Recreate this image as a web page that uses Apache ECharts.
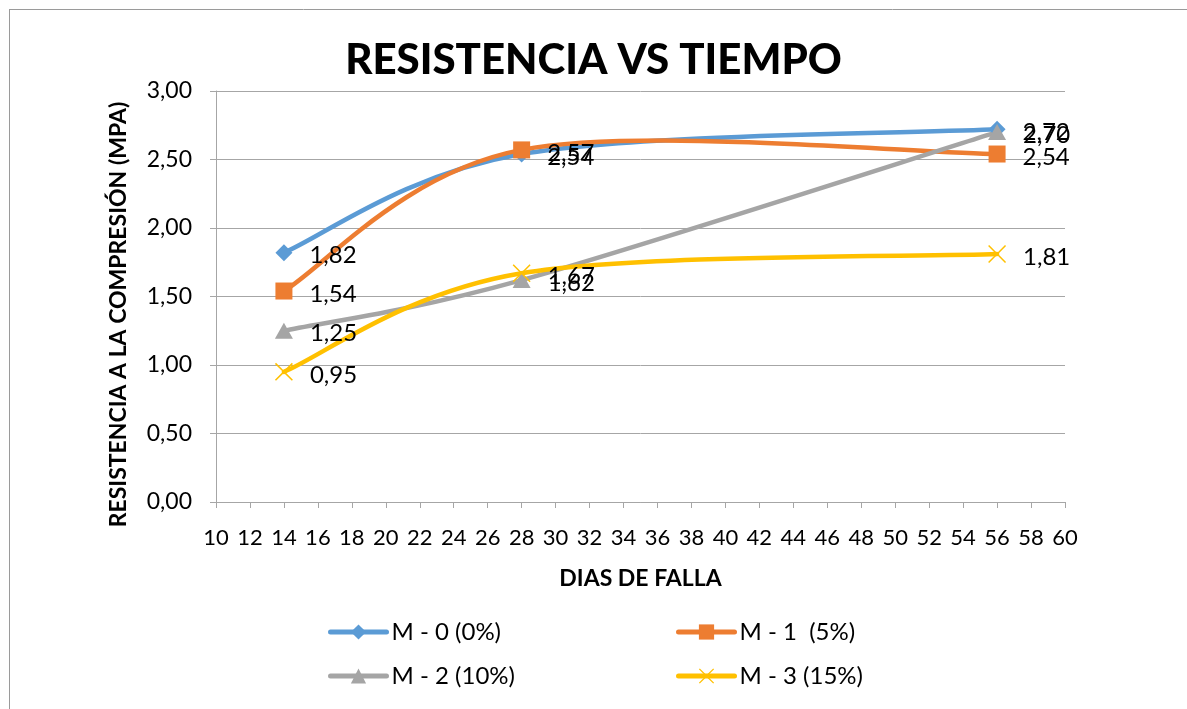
<!DOCTYPE html>
<html>
<head>
<meta charset="utf-8">
<script src="https://cdn.jsdelivr.net/npm/echarts@6/dist/echarts.min.js"></script>
<style>
  html, body { margin: 0; padding: 0; background: #fff; }
  #chart { width: 1187px; height: 709px; }
</style>
</head>
<body>
<div id="chart"></div>
<script>
// Test ages (days) and compressive strength (MPa) for each mix
const dias = [14, 28, 56];
const m0 = [1.82, 2.54, 2.72];
const m1 = [1.54, 2.57, 2.54];
const m2 = [1.25, 1.62, 2.70];
const m3 = [0.95, 1.67, 1.81];

const seriesNames = ['M - 0 (0%)', 'M - 1  (5%)', 'M - 2 (10%)', 'M - 3 (15%)'];
const seriesValues = [m0, m1, m2, m3];
const colors = ['#5B9BD5', '#ED7D31', '#A5A5A5', '#FFC000'];

const FONT = 'Lato, "Open Sans", sans-serif';
const fmt = v => v.toFixed(2).replace('.', ',');

// Thin "x" marker drawn as a filled outline
const crossPath = 'path://M0,0.6L0.6,0L5,4.4L9.4,0L10,0.6L5.6,5L10,9.4L9.4,10L5,5.6L0.6,10L0,9.4L4.4,5Z';
const symbols = ['diamond', 'rect', 'triangle', crossPath];
const symbolSizes = [[17, 17], [17, 17], [18, 16], [18, 18]];

// Smoothed curve through the points: cubic Bezier segments whose control
// points sit one sixth of the neighbour-to-neighbour vector away (Catmull-Rom).
function smoothCurve(values, color) {
  return function (params, api) {
    if (params.dataIndex !== 0) return null;
    const pts = dias.map((d, k) => api.coord([d, values[k]]));
    const n = pts.length;
    const children = [];
    for (let i = 0; i < n - 1; i++) {
      const p0 = pts[i - 1] || pts[i];
      const p1 = pts[i];
      const p2 = pts[i + 1];
      const p3 = pts[i + 2] || pts[i + 1];
      children.push({
        type: 'bezierCurve',
        shape: {
          x1: p1[0], y1: p1[1],
          x2: p2[0], y2: p2[1],
          cpx1: p1[0] + (p2[0] - p0[0]) / 6,
          cpy1: p1[1] + (p2[1] - p0[1]) / 6,
          cpx2: p2[0] - (p3[0] - p1[0]) / 6,
          cpy2: p2[1] - (p3[1] - p1[1]) / 6
        },
        style: { stroke: color, lineWidth: 4.5, fill: null, lineCap: 'round', lineJoin: 'round' },
        silent: true
      });
    }
    return { type: 'group', children: children };
  };
}

const curveSeries = seriesNames.map((name, i) => ({
  type: 'custom',
  name: name + ' curva',
  data: dias.map((d, k) => [d, seriesValues[i][k]]),
  renderItem: smoothCurve(seriesValues[i], colors[i]),
  clip: false,
  silent: true,
  z: 2
}));

const pointSeries = seriesNames.map((name, i) => ({
  name: name,
  type: 'line',
  data: dias.map((d, k) => [d, seriesValues[i][k]]),
  symbol: symbols[i],
  symbolSize: symbolSizes[i],
  showAllSymbol: true,
  lineStyle: { color: colors[i], width: 4.5, opacity: 0 },
  itemStyle: { color: colors[i] },
  label: {
    show: true,
    position: 'right',
    distance: 17,
    offset: [0, 3],
    color: '#000',
    fontFamily: FONT,
    fontSize: 24,
    formatter: p => fmt(p.value[1])
  },
  emphasis: { disabled: true },
  z: 3 + i
}));

// One legend block per series, laid out in two rows of two
const legendPos = [[328, 620], [676, 620], [328, 664], [676, 664]];
const legends = seriesNames.map((name, i) => ({
  data: [name],
  left: legendPos[i][0],
  top: legendPos[i][1],
  padding: 0,
  itemWidth: 56,
  itemHeight: 19,
  itemGap: 0,
  lineStyle: { color: colors[i], width: 5, opacity: 1, cap: 'round' },
  itemStyle: { color: colors[i], opacity: 1 },
  textStyle: { fontFamily: FONT, fontSize: 24, color: '#000' },
  selectedMode: false
}));

const chart = echarts.init(document.getElementById('chart'), null, { renderer: 'canvas' });
chart.setOption({
  animation: false,
  backgroundColor: '#fff',
  title: {
    text: 'RESISTENCIA VS TIEMPO',
    left: 'center',
    top: 34,
    textStyle: { fontFamily: FONT, fontSize: 42, fontWeight: 900, color: '#000' }
  },
  legend: legends,
  grid: { left: 216, right: 122, top: 91, bottom: 207 },
  xAxis: {
    type: 'value',
    min: 10,
    max: 60,
    interval: 2,
    name: 'DIAS DE FALLA',
    nameLocation: 'middle',
    nameGap: 65,
    nameTextStyle: { fontFamily: FONT, fontSize: 23, fontWeight: 'bold', color: '#000' },
    axisLine: { show: true, lineStyle: { color: '#A6A6A6', width: 1 } },
    axisTick: { show: true, length: 6, lineStyle: { color: '#A6A6A6' } },
    axisLabel: { fontFamily: FONT, fontSize: 22, color: '#000', margin: 25 },
    splitLine: { show: false }
  },
  yAxis: {
    type: 'value',
    min: 0,
    max: 3,
    interval: 0.5,
    name: 'RESISTENCIA A LA COMPRESIÓN (MPA)',
    nameLocation: 'middle',
    nameGap: 86,
    nameTextStyle: { fontFamily: FONT, fontSize: 23, fontWeight: 'bold', color: '#000', padding: [0, 36, 0, 0] },
    axisLine: { show: true, lineStyle: { color: '#A6A6A6', width: 1 } },
    axisTick: { show: true, length: 6, lineStyle: { color: '#A6A6A6' } },
    axisLabel: { fontFamily: FONT, fontSize: 23, color: '#000', margin: 24, formatter: v => fmt(v) },
    splitLine: { show: true, lineStyle: { color: '#A6A6A6', width: 1 } }
  },
  graphic: [
    { type: 'line', shape: { x1: 9, y1: 9.5, x2: 1187, y2: 9.5 }, style: { stroke: '#9A9A9A', lineWidth: 1 }, silent: true },
    { type: 'line', shape: { x1: 9.5, y1: 9, x2: 9.5, y2: 709 }, style: { stroke: '#9A9A9A', lineWidth: 1 }, silent: true }
  ],
  series: curveSeries.concat(pointSeries)
});
</script>
</body>
</html>
